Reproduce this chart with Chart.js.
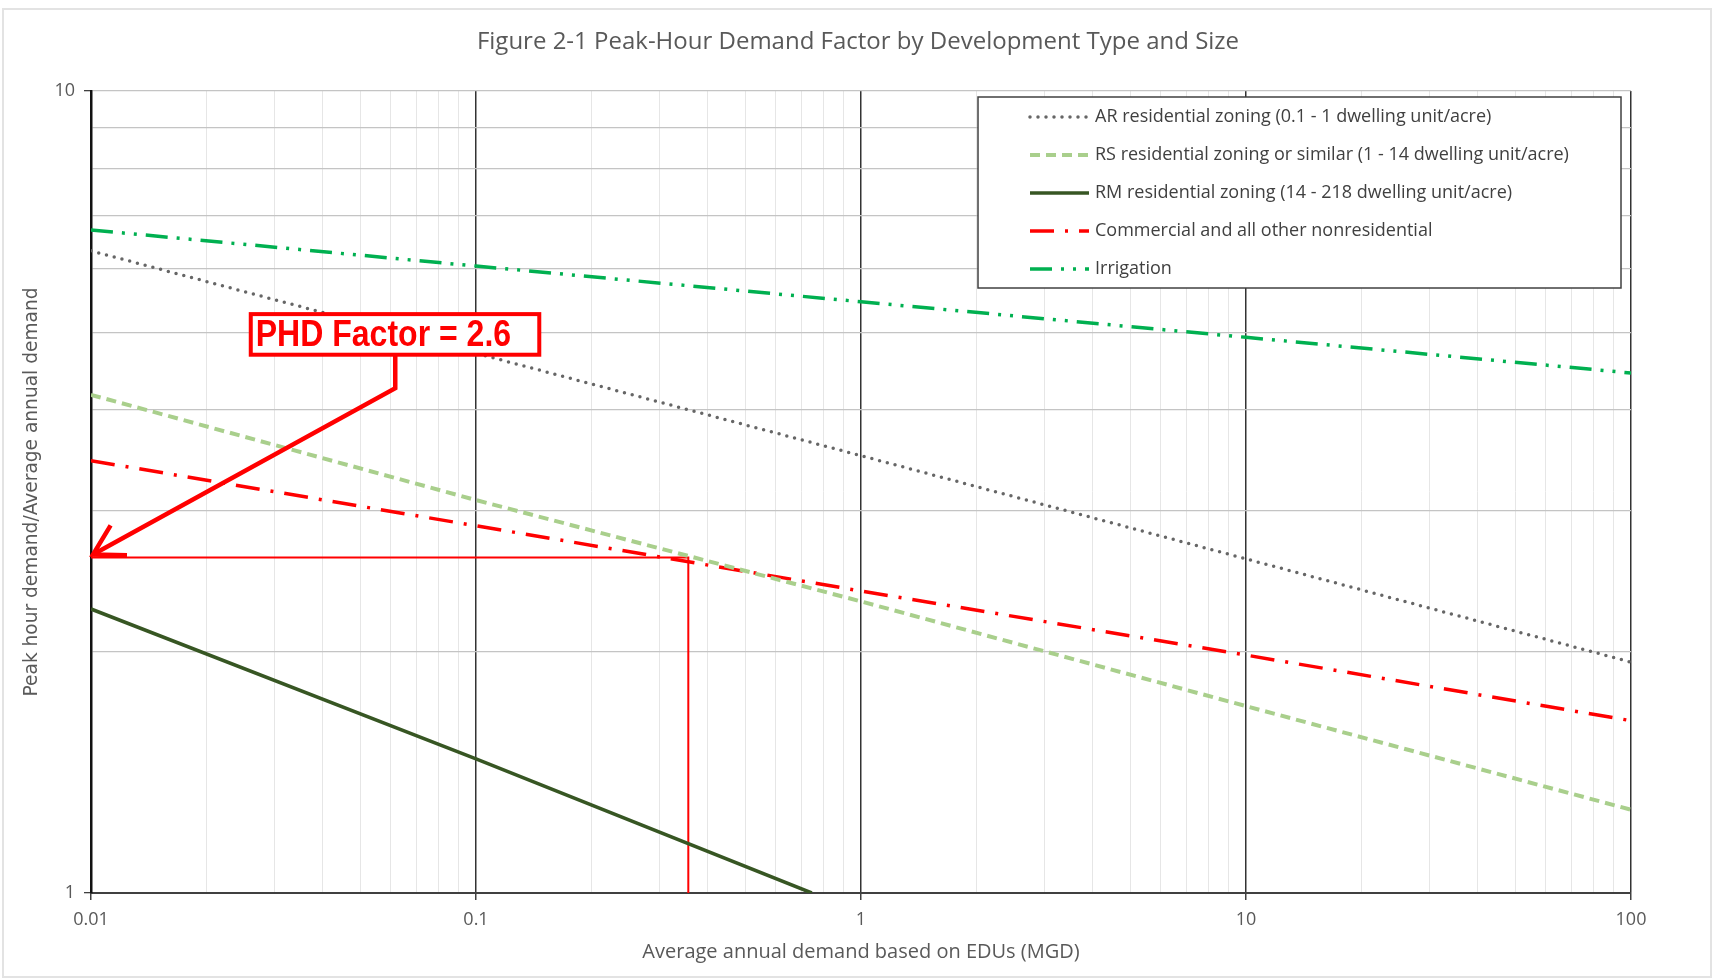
<!DOCTYPE html>
<html><head><meta charset="utf-8">
<script src="https://cdn.jsdelivr.net/npm/chart.js@4.4.0/dist/chart.umd.min.js"></script>
<style>html,body{margin:0;padding:0;background:#fff;overflow:hidden}#wrap{width:1716px;height:980px;}</style>
</head><body><div id="wrap"><canvas id="c" width="1716" height="980"></canvas></div>
<script>
// ---- data ----
const demandMGD = [0.01, 0.1, 1, 10, 100];
const arFactor = [6.32, 4.71, 3.51, 2.61, 1.94];
const rsFactor = [4.18, 3.09, 2.31, 1.71, 1.27];
const commercialFactor = [3.46, 2.87, 2.38, 1.98, 1.64];
const irrigationFactor = [6.71, 6.05, 5.46, 4.93, 4.45];
const rmDemandMGD = [0.01, 0.1, 0.745];
const rmFactor = [2.26, 1.47, 1.0];
const phdDemand = 0.356;
const phdFactor = 2.62;
const phdLabel = 'PHD Factor = 2.6';
const xTickLabels = [0.01, 0.1, 1, 10, 100];
const yTickLabels = [1, 10];
const seriesNames = [
  'AR residential zoning (0.1 - 1 dwelling unit/acre)',
  'RS residential zoning or similar (1 - 14 dwelling unit/acre)',
  'RM residential zoning (14 - 218 dwelling unit/acre)',
  'Commercial and all other nonresidential',
  'Irrigation'
];
const titleText = 'Figure 2-1 Peak-Hour Demand Factor by Development Type and Size';
const xTitle = 'Average annual demand based on EDUs (MGD)';
const yTitle = 'Peak hour demand/Average annual demand';

const pts = (xs, ys) => xs.map((x, i) => ({x, y: ys[i]}));
const FONT = '"Open Sans", "DejaVu Sans", sans-serif';
const GREY_TXT = '#595959';

function logTicks(minExp, maxExp) {
  const out = [];
  for (let d = minExp; d < maxExp; d++) for (let m = 1; m <= 9; m++) out.push(m * Math.pow(10, d));
  out.push(Math.pow(10, maxExp));
  return out.map(v => parseFloat(v.toPrecision(3)));
}
const isMajorX = v => xTickLabels.some(t => Math.abs(t - v) / t < 1e-6);
const isMajorY = v => yTickLabels.some(t => Math.abs(t - v) / t < 1e-6);

const datasets = [
  {label: seriesNames[0], data: pts(demandMGD, arFactor), borderColor: '#666666', borderWidth: 3.5, borderDash: [0, 8], borderCapStyle: 'round'},
  {label: seriesNames[1], data: pts(demandMGD, rsFactor), borderColor: '#a9cf8c', borderWidth: 4, borderDash: [10, 6]},
  {label: seriesNames[2], data: pts(rmDemandMGD, rmFactor), borderColor: '#375623', borderWidth: 3.5, borderDash: []},
  {label: seriesNames[3], data: pts(demandMGD, commercialFactor), borderColor: '#ff0000', borderWidth: 3.5, borderDash: [24, 11, 3, 11]},
  {label: seriesNames[4], data: pts(demandMGD, irrigationFactor), borderColor: '#00b050', borderWidth: 3.5, borderDash: [22, 9, 3, 9, 3, 9]},
  {label: 'PHD', isGuide: true, data: [{x: xTickLabels[0], y: phdFactor}, {x: phdDemand, y: phdFactor}, {x: phdDemand, y: yTickLabels[0]}], borderColor: '#ff0000', borderWidth: 2, borderDash: []}
].map(d => Object.assign({showLine: true, pointRadius: 0, pointHoverRadius: 0, fill: false, tension: 0}, d));

const decor = {
  id: 'decor',
  beforeDraw(chart) {
    const c = chart.ctx;
    c.save();
    c.strokeStyle = '#e3e3e3'; c.lineWidth = 2;
    c.strokeRect(3, 9, 1708, 968);
    // chart title, centred on the page
    c.fillStyle = GREY_TXT; c.font = '24px ' + FONT;
    c.textAlign = 'center'; c.textBaseline = 'middle';
    c.fillText(titleText, chart.width / 2, 42);
    c.restore();
  },
  afterDatasetsDraw(chart) {
    const c = chart.ctx, xs = chart.scales.x, ys = chart.scales.y, a = chart.chartArea;
    // annotation box (placed in data coordinates)
    const bx1 = xs.getPixelForValue(0.026), bx2 = xs.getPixelForValue(0.146);
    const by1 = ys.getPixelForValue(5.27), by2 = ys.getPixelForValue(4.69);
    c.save();
    c.fillStyle = '#fff'; c.fillRect(bx1, by1, bx2 - bx1, by2 - by1);
    c.strokeStyle = '#ff0000'; c.lineWidth = 4; c.strokeRect(bx1, by1, bx2 - bx1, by2 - by1);
    c.fillStyle = '#ff0000';
    c.font = 'bold 37px "Liberation Sans Narrow", "Liberation Sans", Arial, sans-serif';
    c.textBaseline = 'middle'; c.textAlign = 'left';
    const w = c.measureText(phdLabel).width, target = (bx2 - bx1) * 0.885;
    c.save();
    c.translate(bx1 + 5, (by1 + by2) / 2 + 1);
    c.scale(target / w, 1);
    c.fillText(phdLabel, 0, 0);
    c.restore();
    // arrow
    const ax = xs.getPixelForValue(0.0617), ay = ys.getPixelForValue(4.26);
    const tx = xs.getPixelForValue(xTickLabels[0]) + 2, ty = ys.getPixelForValue(phdFactor) - 3;
    c.lineWidth = 4.5; c.lineCap = 'butt'; c.lineJoin = 'miter';
    c.beginPath(); c.moveTo(ax, by2); c.lineTo(ax, ay); c.lineTo(tx, ty); c.stroke();
    const ang = Math.atan2(ay - ty, ax - tx), L = 34, sp = Math.PI / 6;
    c.beginPath();
    c.moveTo(tx + L * Math.cos(ang - sp), ty + L * Math.sin(ang - sp));
    c.lineTo(tx, ty);
    c.lineTo(tx + L * Math.cos(ang + sp), ty + L * Math.sin(ang + sp));
    c.stroke();
    c.restore();

    // legend
    const lx2 = a.right - 10, lx1 = 978, ly1 = a.top + 6, ly2 = a.top + 197;
    c.save();
    c.fillStyle = '#fff'; c.fillRect(lx1, ly1, lx2 - lx1, ly2 - ly1);
    c.strokeStyle = '#404040'; c.lineWidth = 1.5; c.strokeRect(lx1, ly1, lx2 - lx1, ly2 - ly1);
    c.font = '18px ' + FONT; c.fillStyle = '#404040'; c.textBaseline = 'middle'; c.textAlign = 'left';
    chart.data.datasets.filter(d => !d.isGuide).forEach((d, i) => {
      const y = ly1 + 20 + i * 38;
      c.strokeStyle = d.borderColor; c.lineWidth = d.borderWidth; c.setLineDash(d.borderDash || []);
      c.lineCap = d.borderCapStyle || 'butt';
      c.beginPath(); c.moveTo(1030, y); c.lineTo(1089, y); c.stroke();
      c.setLineDash([]);
      c.fillText(d.label, 1095, y);
    });
    c.restore();
  }
};

Chart.defaults.font.family = FONT;
new Chart(document.getElementById('c'), {
  type: 'scatter',
  data: {datasets},
  plugins: [decor],
  options: {
    responsive: false, animation: false, devicePixelRatio: 1,
    layout: {padding: {left: 0, right: 85, top: 91, bottom: 0}},
    plugins: {
      legend: {display: false}, tooltip: {enabled: false}, title: {display: false}
    },
    scales: {
      x: {
        type: 'logarithmic', min: 0.01, max: 100,
        afterFit: s => { s.height = 87; },
        afterBuildTicks: s => { s.ticks = logTicks(-2, 2).map(v => ({value: v, major: isMajorX(v)})); },
        ticks: {autoSkip: false, maxRotation: 0, color: GREY_TXT, font: {size: 18}, padding: 9,
          callback: v => isMajorX(v) ? String(v) : ''},
        grid: {
          color: ctx => ctx.tick && isMajorX(ctx.tick.value) ? '#333333' : '#e6e6e6',
          lineWidth: ctx => ctx.tick && isMajorX(ctx.tick.value) ? 1.5 : 1,
          tickColor: ctx => ctx.tick && isMajorX(ctx.tick.value) ? '#404040' : 'rgba(0,0,0,0)',
          tickLength: 7, drawTicks: true
        },
        border: {display: true, color: '#404040', width: 2},
        title: {display: true, text: xTitle, color: GREY_TXT, font: {size: 20}, padding: {top: 0, bottom: 16}}
      },
      y: {
        type: 'logarithmic', min: 1, max: 10,
        afterFit: s => { s.width = 91; },
        afterBuildTicks: s => { s.ticks = logTicks(0, 1).map(v => ({value: v, major: isMajorY(v)})); },
        ticks: {autoSkip: false, color: GREY_TXT, font: {size: 18}, padding: 9,
          callback: v => isMajorY(v) ? String(v) : ''},
        grid: {
          color: '#c4c4c4', lineWidth: 1.3,
          tickColor: ctx => ctx.tick && isMajorY(ctx.tick.value) ? '#404040' : 'rgba(0,0,0,0)',
          tickLength: 7, drawTicks: true
        },
        border: {display: true, color: '#111111', width: 2.5},
        title: {display: true, text: yTitle, color: GREY_TXT, font: {size: 18.6, family: '"DejaVu Sans", sans-serif'}, padding: {top: 21, bottom: 0}}
      }
    }
  }
});
</script></body></html>
